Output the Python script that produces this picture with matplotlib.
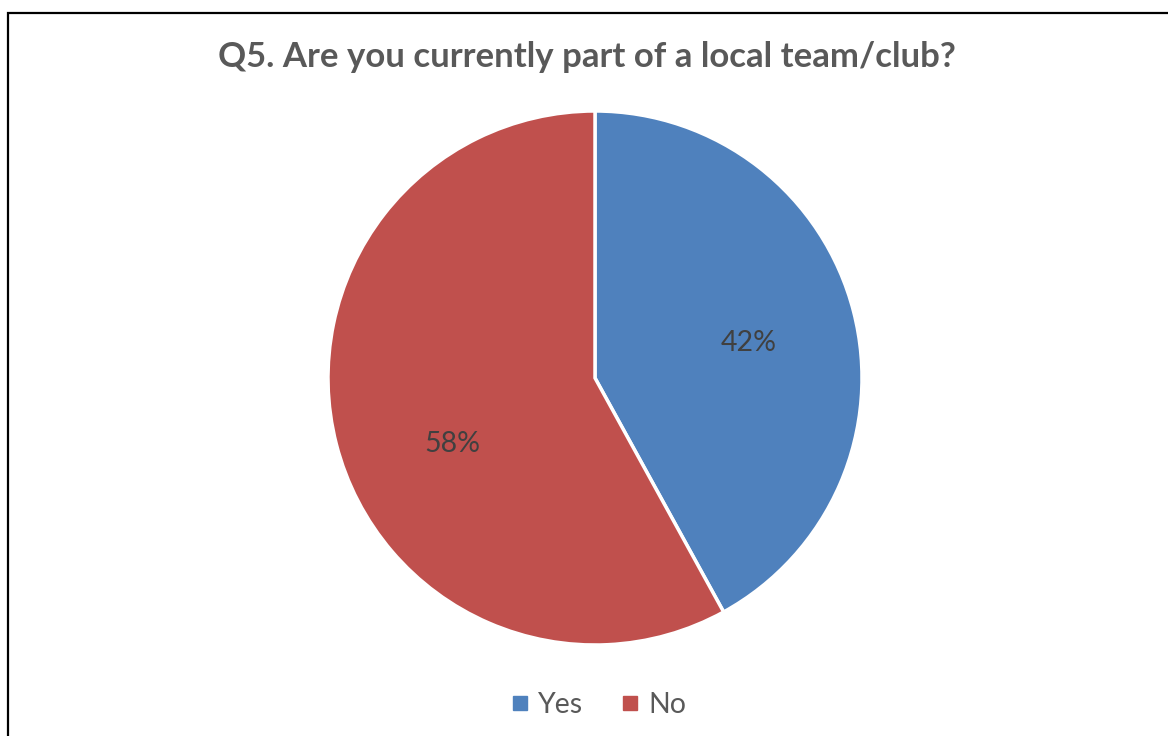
import matplotlib.pyplot as plt
from matplotlib.patches import Rectangle
from matplotlib.lines import Line2D

title = "Q5. Are you currently part of a local team/club?"
labels = ["Yes", "No"]
shares = [42, 58]
colors = ["#4F81BD", "#C0504D"]
# data label anchor points (pie radius units), as Excel placed them
label_pos = [(0.577, 0.131), (-0.536, -0.247)]

W, H = 1168, 736
fig = plt.figure(figsize=(W / 100, H / 100), dpi=100)
plt.rcParams['font.family'] = ['Lato', 'DejaVu Sans']

# chart frame (only left and top edges are in view)
fig.patches.append(Rectangle((8 / W, -0.1), 1.2, 1 - 13 / H + 0.1, transform=fig.transFigure,
                             fill=False, edgecolor="black", linewidth=1.6))

cx, cy, r = 595, 378, 267
ax = fig.add_axes([(cx - r) / W, 1 - (cy + r) / H, 2 * r / W, 2 * r / H])
wedges, texts, autotexts = ax.pie(shares, colors=colors, startangle=90, counterclock=False,
                                  autopct=lambda p: "%d%%" % round(p), pctdistance=0.59,
                                  wedgeprops=dict(edgecolor="white", linewidth=2.5),
                                  textprops=dict(color="#404040", fontsize=20.5))
for t, pos in zip(autotexts, label_pos):
    t.set_position(pos)
ax.set_xlim(-1, 1)
ax.set_ylim(-1, 1)
ax.set_aspect("equal")
ax.axis('off')

fig.text(587 / W, 1 - 57 / H, title, ha="center", va="center",
         fontsize=25, fontweight="bold", color="#595959")

handles = [Line2D([], [], marker="s", linestyle="none", markersize=10, color=c) for c in colors]
fig.legend(handles, labels, loc="center", bbox_to_anchor=(599 / W, 1 - 705 / H),
           ncol=2, frameon=False, fontsize=20.5, labelcolor="#595959",
           handlelength=0.6, handletextpad=0.33, columnspacing=1.35)

plt.savefig("out.png", dpi=100)
